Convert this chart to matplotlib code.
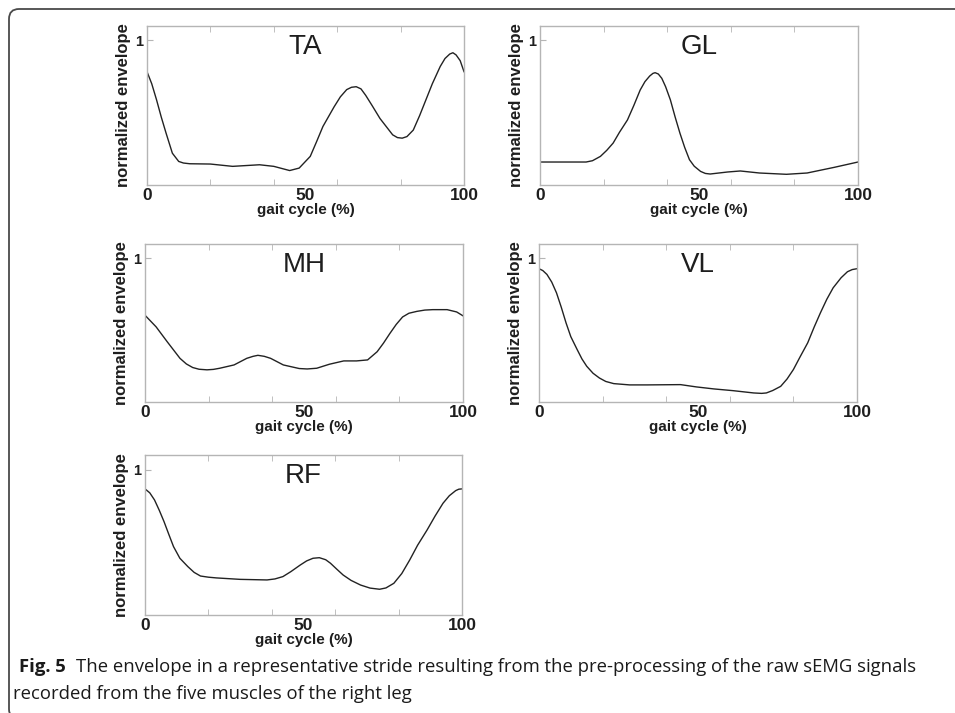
import matplotlib.pyplot as plt
from matplotlib.patches import FancyBboxPatch

# envelope values (gait cycle % -> normalized envelope)
ta_x = [0, 1.5, 3, 4.5, 6, 8, 10, 11.5, 13.5, 20, 27, 35.5, 40, 45, 48, 51.5, 53.5, 55.5, 59, 61, 63, 64.5, 66, 67.5, 69, 71, 73.5, 77.5, 79,
        80.5, 82, 84, 86, 88, 90, 92.5, 94, 95.5, 96.5, 97.5, 98.8, 100]
ta_y = [0.784, 0.70, 0.59, 0.47, 0.36, 0.22, 0.163, 0.152, 0.147, 0.145, 0.129, 0.14, 0.129, 0.10, 0.117, 0.198, 0.30, 0.405, 0.54, 0.61, 0.66,
        0.676, 0.68, 0.665, 0.62, 0.55, 0.46, 0.347, 0.328, 0.324, 0.335, 0.38, 0.48, 0.59, 0.70, 0.82, 0.875, 0.906, 0.915, 0.90, 0.86, 0.784]

gl_x = [0, 14.5, 16.5, 19, 21, 23, 25, 27.5, 29.5, 31.5, 33, 34.5, 35.5, 36.2, 37.2, 38.3, 39.5, 41, 42.5, 44, 45.5, 47, 48.5, 50.5, 52,
        53.5, 59, 63, 69, 77.5, 84, 92.5, 100]
gl_y = [0.159, 0.159, 0.168, 0.198, 0.24, 0.29, 0.365, 0.45, 0.55, 0.657, 0.715, 0.754, 0.772, 0.777, 0.768, 0.738, 0.68, 0.589, 0.47, 0.359,
        0.26, 0.175, 0.13, 0.094, 0.08, 0.076, 0.09, 0.097, 0.083, 0.074, 0.083, 0.122, 0.159]

mh_x = [0, 3.5, 7, 11, 13, 15, 17, 19.5, 21.5, 23.5, 28, 32, 34, 35.5, 37.5, 39.5, 43.5, 48.5, 51, 54, 58, 62.5, 66.5, 70, 73, 75, 77,
        79, 81, 83, 85.5, 88, 90.5, 95, 98, 100]
mh_y = [0.604, 0.523, 0.419, 0.304, 0.265, 0.24, 0.228, 0.224, 0.227, 0.235, 0.258, 0.304, 0.318, 0.325, 0.318, 0.304, 0.258, 0.233, 0.23,
        0.235, 0.263, 0.286, 0.286, 0.293, 0.35, 0.41, 0.477, 0.54, 0.592, 0.618, 0.631, 0.64, 0.643, 0.643, 0.627, 0.60]

vl_x = [0, 1.2, 2.5, 4, 5.5, 7, 8.5, 10, 12, 13.5, 15, 17, 19, 21, 23.5, 28.5, 34, 44.5, 49.5, 55, 61, 67.5, 70, 71.5, 73.5, 76, 78, 80,
        82, 84.5, 86.5, 88.5, 90.5, 92.5, 95, 97, 98.5, 100]
vl_y = [0.928, 0.915, 0.888, 0.835, 0.76, 0.66, 0.551, 0.455, 0.365, 0.30, 0.249, 0.2, 0.167, 0.143, 0.128, 0.119, 0.119, 0.121, 0.105,
        0.091, 0.079, 0.063, 0.06, 0.063, 0.08, 0.109, 0.16, 0.226, 0.31, 0.412, 0.52, 0.621, 0.715, 0.795, 0.865, 0.907, 0.922, 0.928]

rf_x = [0, 1.5, 3, 4.5, 6, 7.5, 9, 11, 13.5, 15.5, 17.5, 20, 22.5, 30, 38.5, 41, 43.5, 46, 49, 51, 53, 55, 57, 58.5, 60.5, 62.5, 65, 68,
        71, 74, 76, 78.5, 81, 83.5, 86, 89, 91.5, 94, 96, 98, 99, 100]
rf_y = [0.867, 0.84, 0.791, 0.72, 0.642, 0.555, 0.47, 0.39, 0.333, 0.293, 0.268, 0.26, 0.255, 0.245, 0.241, 0.248, 0.264, 0.298, 0.344,
        0.372, 0.39, 0.394, 0.38, 0.356, 0.315, 0.275, 0.238, 0.206, 0.185, 0.177, 0.186, 0.218, 0.285, 0.378, 0.48, 0.585, 0.68, 0.768,
        0.82, 0.855, 0.865, 0.867]

muscles = ["TA", "GL", "MH", "VL", "RF"]
xs = [ta_x, gl_x, mh_x, vl_x, rf_x]
ys = [ta_y, gl_y, mh_y, vl_y, rf_y]

W, H = 955, 713
# axes boxes in pixels: left, top, right, bottom
boxes = [(147, 26, 464, 185), (540, 26, 858, 185),
         (145, 244, 463, 402), (539, 244, 857, 402),
         (145, 455, 462, 615)]

plt.rcParams['font.family'] = ['Liberation Sans', 'DejaVu Sans']

fig = plt.figure(figsize=(W / 100, H / 100), dpi=100)

spine_col = "#b5b5b5"
txt_col = "#1e1e1e"
for name, x, y, (l, t, r, b) in zip(muscles, xs, ys, boxes):
    ax = fig.add_axes([l / W, 1 - b / H, (r - l) / W, (b - t) / H])
    ax.plot(x, y, color="#222222", lw=1.0)
    ax.set_xlim(0, 100)
    ax.set_ylim(0, 1.1)
    ax.set_xticks([0, 50, 100])
    ax.set_xticks([20, 40, 60, 80], minor=True)
    ax.set_yticks([1])
    ax.tick_params(axis="x", which="major", length=0, pad=2, labelsize=12.5)
    ax.tick_params(axis="x", which="minor", direction="in", length=4,
                   top=True, bottom=True, color=spine_col)
    ax.tick_params(axis="y", which="major", direction="in", length=4,
                   color=spine_col, pad=3, labelsize=10.5)
    for lab in ax.get_xticklabels() + ax.get_yticklabels():
        lab.set_fontweight("bold")
        lab.set_color(txt_col)
    for sp in ax.spines.values():
        sp.set_color(spine_col)
        sp.set_linewidth(1.0)
    ax.set_xlabel("gait cycle (%)", fontsize=11, fontweight="bold",
                  color=txt_col, labelpad=0)
    ax.set_ylabel("normalized envelope", fontsize=12, fontweight="bold",
                  color=txt_col, labelpad=3)
    ax.text(0.5, 0.87, name, transform=ax.transAxes, ha="center", va="center",
            fontsize=20, color=txt_col)

# figure frame (left and top edges with rounded corners)
frame = FancyBboxPatch((9, -6), 1000, H - 9 + 6,
                       boxstyle="round,pad=0,rounding_size=10",
                       transform=None, fill=False, ec="#4a4a4a", lw=1.3)
fig.add_artist(frame)

# caption
cap_font = ['Open Sans', 'DejaVu Sans']
fig.text(19 / W, 1 - 667 / H, "Fig. 5", fontsize=13.3, fontweight="bold",
         family=cap_font, color="#1a1a1a", va="center", ha="left")
fig.text(76 / W, 1 - 667 / H,
         "The envelope in a representative stride resulting from the pre-processing of the raw sEMG signals",
         fontsize=13.3, family=cap_font, color="#1a1a1a", va="center", ha="left")
fig.text(13 / W, 1 - 694 / H, "recorded from the five muscles of the right leg",
         fontsize=13.3, family=cap_font, color="#1a1a1a", va="center", ha="left")

fig.savefig("out.png", dpi=100)
